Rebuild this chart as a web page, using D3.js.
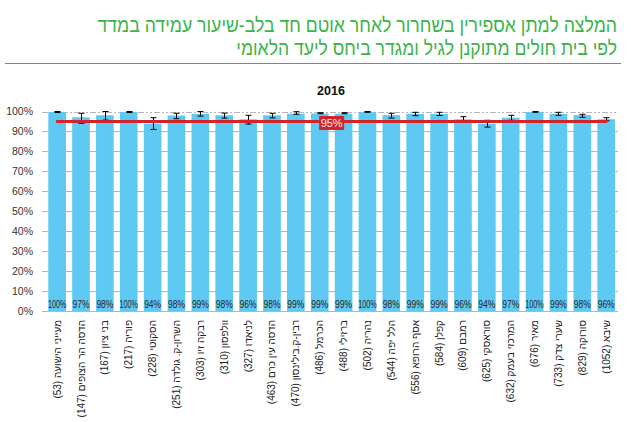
<!DOCTYPE html>
<html><head><meta charset="utf-8">
<script src="https://cdn.jsdelivr.net/npm/d3@7"></script>
<style>
html,body{margin:0;padding:0;background:#fff;}
svg{display:block;}
text{font-family:"Liberation Sans",Arial,sans-serif;}
</style></head>
<body>
<script>
const titleLines = ["המלצה למתן אספירין בשחרור לאחר אוטם חד בלב-שיעור עמידה במדד", "לפי בית חולים מתוקנן לגיל ומגדר ביחס ליעד הלאומי"];
const chartTitle = "2016";
const hospitals = ["מעייני הישועה","הדסה הר הצופים","בני ציון","פוריה","הסקוטי","השרון-ק. גולדה","רבקה זיו","וולפסון","לניאדו","הדסה עין כרם","רבין-ק.בילינסון","הכרמל","ברזילי","נהריה","הלל יפה","אסף הרופא","קפלן","רמבם","סוראסקי","המרכזי בעמק","מאיר","שערי צדק","סורוקה","שיבא"];
const counts = [53,147,167,217,228,251,303,310,327,463,470,486,488,502,544,556,584,609,625,632,676,733,829,1052];
const rates = [99.8,97.1,98.1,99.8,93.9,98.0,98.8,98.1,96.1,98.1,98.9,99.0,98.9,99.8,98.2,98.8,98.8,96.1,93.9,96.9,99.8,98.8,98.2,96.1];
const ciLow = [99.5,94.1,95.7,99.5,91.0,96.4,97.7,96.7,93.7,96.8,98.6,98.9,98.9,99.6,96.7,97.9,98.0,94.7,92.2,95.6,99.6,98.1,97.1,95.3];
const ciHigh = [100,99.1,100,100,96.9,99.1,100,99.2,98.1,99.1,99.9,99.4,99.4,100,99.1,99.6,99.6,97.4,95.6,98.1,100,99.6,98.6,96.9];
const yTicks = [0,10,20,30,40,50,60,70,80,90,100];
const target = 95;

const W = 631, H = 422;
const svg = d3.select("body").append("svg").attr("width", W).attr("height", H);

// Title
const tg = svg.append("g");
[ [titleLines[0], 32, 520], [titleLines[1], 55, 381] ].forEach(([t, y, w]) => {
  const el = tg.append("text").attr("text-anchor", "end").attr("font-size", 20)
    .attr("fill", "#3cb44a").text(t);
  const len = el.node().getComputedTextLength();
  el.attr("transform", `translate(617,${y}) scale(${w/len},1)`);
});
svg.append("line").attr("x1", 5).attr("x2", 621).attr("y1", 63.5).attr("y2", 63.5)
  .attr("stroke", "#3cb44a").attr("stroke-width", 1.2);

svg.append("text").attr("x", 331).attr("y", 95).attr("text-anchor", "middle")
  .attr("font-size", 12.5).attr("font-weight", "bold").attr("fill", "#111").text(chartTitle);

const x = d3.scaleBand().domain(d3.range(hospitals.length)).range([45.2, 618.1])
  .paddingInner(0.26).paddingOuter(0.13);
const y = d3.scaleLinear().domain([0, 100]).range([311, 111.5]);

// gridlines
svg.append("g").selectAll("line").data(yTicks).join("line")
  .attr("x1", 42).attr("x2", 618).attr("y1", d => Math.round(y(d)) + 0.5).attr("y2", d => Math.round(y(d)) + 0.5)
  .attr("stroke", "#b5b5b5").attr("stroke-width", 1)
  .attr("stroke-dasharray", d => d === 100 ? "6,2,2,2,2,2" : null);

// y labels
svg.append("g").selectAll("text").data(yTicks).join("text")
  .attr("x", 33).attr("y", d => y(d)).attr("dy", "0.35em").attr("text-anchor", "end")
  .attr("font-size", 10.5).attr("fill", "#333").text(d => d + "%");

// bars
svg.append("g").selectAll("rect").data(rates).join("rect")
  .attr("x", (d, i) => x(i)).attr("width", x.bandwidth())
  .attr("y", d => y(d)).attr("height", d => y(0) - y(d)).attr("fill", "#5ecaf3");

// error bars
const eg = svg.append("g").attr("stroke", "#000").attr("stroke-width", 1);
rates.forEach((d, i) => {
  const cx = Math.round(x(i) + x.bandwidth() / 2) + 0.5;
  eg.append("line").attr("x1", cx).attr("x2", cx).attr("y1", y(ciLow[i])).attr("y2", y(ciHigh[i]));
  [ciLow[i], ciHigh[i]].forEach(v => {
    eg.append("line").attr("x1", cx - 3).attr("x2", cx + 3).attr("y1", y(v)).attr("y2", y(v));
  });
});

// target line
const cFirst = x(0) + x.bandwidth() / 2, cLast = x(hospitals.length - 1) + x.bandwidth() / 2;
svg.append("line").attr("x1", cFirst - 1).attr("x2", cLast + 1).attr("y1", y(target)).attr("y2", y(target))
  .attr("stroke", "#d0252d").attr("stroke-width", 3);
const midX = (cFirst + cLast) / 2;
svg.append("rect").attr("x", midX - 12.5).attr("y", y(target) - 5.5).attr("width", 25).attr("height", 14)
  .attr("fill", "#d0252d");
svg.append("text").attr("x", midX).attr("y", y(target) + 5.5).attr("text-anchor", "middle")
  .attr("font-size", 11).attr("fill", "#fde8e8").text(target + "%");

// value labels (horizontally condensed to fit bars)
svg.append("g").selectAll("text").data(rates).join("text")
  .attr("text-anchor", "middle")
  .attr("font-size", 10.5).attr("fill", "#2a2222")
  .text(d => Math.round(d) + "%")
  .each(function(d, i) {
    const len = this.getComputedTextLength();
    const target = Math.round(d) >= 100 ? 18.5 : 17;
    const k = Math.min(1, target / len);
    d3.select(this).attr("transform", `translate(${x(i) + x.bandwidth() / 2},307.5) scale(${k},1)`);
  });

// x labels
svg.append("g").selectAll("text").data(hospitals).join("text")
  .attr("transform", (d, i) => `translate(${x(i) + x.bandwidth() / 2 + 3.5},320) rotate(-90)`)
  .attr("text-anchor", "end").attr("font-size", 10).attr("fill", "#222")
  .text((d, i) => `(${counts[i]}) ${d}`);
</script>
</body></html>
